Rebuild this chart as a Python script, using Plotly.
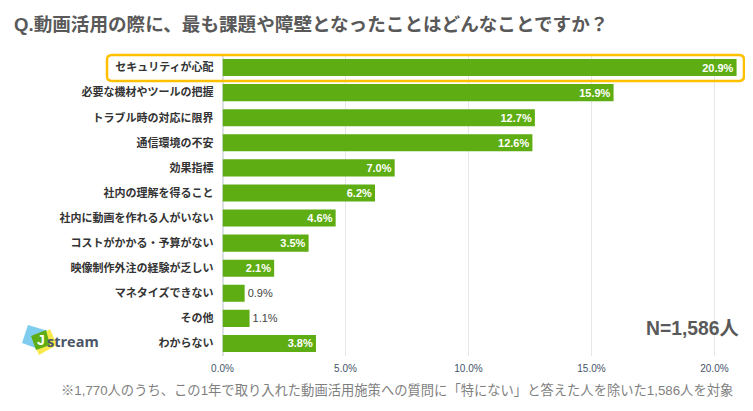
import plotly.graph_objects as go

# the page body has an 8px margin, so the figure is 8px smaller and coordinates shift
OFFSET = 8
W, H = 753 - OFFSET, 411 - OFFSET

categories = [
    "セキュリティが心配", "必要な機材やツールの把握", "トラブル時の対応に限界", "通信環境の不安",
    "効果指標", "社内の理解を得ること", "社内に動画を作れる人がいない", "コストがかかる・予算がない",
    "映像制作外注の経験が乏しい", "マネタイズできない", "その他", "わからない",
]
values = [20.9, 15.9, 12.7, 12.6, 7.0, 6.2, 4.6, 3.5, 2.1, 0.9, 1.1, 3.8]
tick_values = [0, 5, 10, 15, 20]
tick_labels = ["0.0%", "5.0%", "10.0%", "15.0%", "20.0%"]

FONT = "Liberation Sans, Noto Sans CJK JP"
GREEN = "#5EAD12"


def px(x):
    return (x - OFFSET) / W


def py(y):
    return 1 - (y - OFFSET) / H


def pt(x, y):
    return f"{px(x):.4f},{py(y):.4f}"


def poly(points, color):
    path = "M " + " L ".join(pt(x, y) for x, y in points) + " Z"
    return dict(type="path", path=path, xref="paper", yref="paper",
                fillcolor=color, line=dict(width=0), layer="above")


def rounded_box(x0, y0, x1, y1, r, color):
    path = (
        f"M {pt(x0 + r, y0)} L {pt(x1 - r, y0)} Q {pt(x1, y0)} {pt(x1, y0 + r)} "
        f"L {pt(x1, y1 - r)} Q {pt(x1, y1)} {pt(x1 - r, y1)} "
        f"L {pt(x0 + r, y1)} Q {pt(x0, y1)} {pt(x0, y1 - r)} "
        f"L {pt(x0, y0 + r)} Q {pt(x0, y0)} {pt(x0 + r, y0)} Z"
    )
    return dict(type="path", path=path, xref="paper", yref="paper",
                line=dict(color=color, width=2.5), fillcolor="rgba(0,0,0,0)", layer="above")


fig = go.Figure(go.Bar(
    x=values,
    y=categories,
    orientation="h",
    width=0.68,
    marker=dict(color=GREEN, line=dict(width=0)),
    text=[f"{v:.1f}%" for v in values],
    textposition=["outside" if v < 2 else "inside" for v in values],
    insidetextanchor="end",
    constraintext="none",
    cliponaxis=False,
    textfont=dict(family=FONT, size=11, color=["#444444" if v < 2 else "white" for v in values],
                  weight=[400 if v < 2 else 700 for v in values]),
))

fig.update_layout(
    width=W, height=H,
    margin=dict(l=0, r=0, t=0, b=0),
    paper_bgcolor="white", plot_bgcolor="white",
    showlegend=False,
    font=dict(family=FONT),
    xaxis=dict(
        domain=[px(222.5), px(740)],
        range=[0, 21.04],
        automargin=False,
        tickmode="array", tickvals=tick_values, ticktext=tick_labels,
        tickfont=dict(size=10, color="#44546A", family=FONT),
        gridcolor="#E4E7EA", gridwidth=1, zeroline=True, zerolinecolor="#DDE1E5",
        ticks="", anchor="y", ticklabelstandoff=5,
    ),
    yaxis=dict(
        domain=[py(356), py(55)],
        autorange="reversed",
        automargin=False,
        tickfont=dict(size=11, color="#333333", family=FONT, weight=700),
        ticks="", showgrid=False, showline=False, ticklabelstandoff=8,
    ),
    shapes=[
        rounded_box(107, 55, 744, 81, 5, "#FFC000"),
        poly([(28, 325), (48, 331), (41, 350), (22, 343)], "#7FCDEE"),
        poly([(50, 329), (57, 345), (39, 355), (33, 340)], "#F7E94B"),
        poly([(31, 336), (46, 330), (50, 345), (36, 350)], GREEN),
    ],
    annotations=[
        dict(text="<b>Q.動画活用の際に、最も課題や障壁となったことはどんなことですか？</b>",
             x=px(12), y=py(25), xref="paper", yref="paper", xanchor="left", yanchor="middle",
             showarrow=False, font=dict(size=18.6, color="#595959", family=FONT)),
        dict(text="<b>N=1,586人</b>",
             x=px(741), y=py(328), xref="paper", yref="paper", xanchor="right", yanchor="middle",
             showarrow=False, font=dict(size=19.3, color="#595959", family=FONT)),
        dict(text="※1,770人のうち、この1年で取り入れた動画活用施策への質問に「特にない」と答えた人を除いた1,586人を対象",
             x=px(735), y=py(390), xref="paper", yref="paper", xanchor="right", yanchor="middle",
             showarrow=False, font=dict(size=13.3, color="#7F7F7F", family=FONT)),
        dict(text="<b>J</b>", x=px(41), y=py(340), xref="paper", yref="paper", xanchor="center", yanchor="middle",
             showarrow=False, font=dict(size=14, color="white", family="Liberation Sans")),
        dict(text="<b>stream</b>", x=px(45), y=py(341), xref="paper", yref="paper", xanchor="left", yanchor="middle",
             showarrow=False, font=dict(size=14.5, color="#4A5568", family="Open Sans")),
    ],
)

fig.write_html("out.html")
